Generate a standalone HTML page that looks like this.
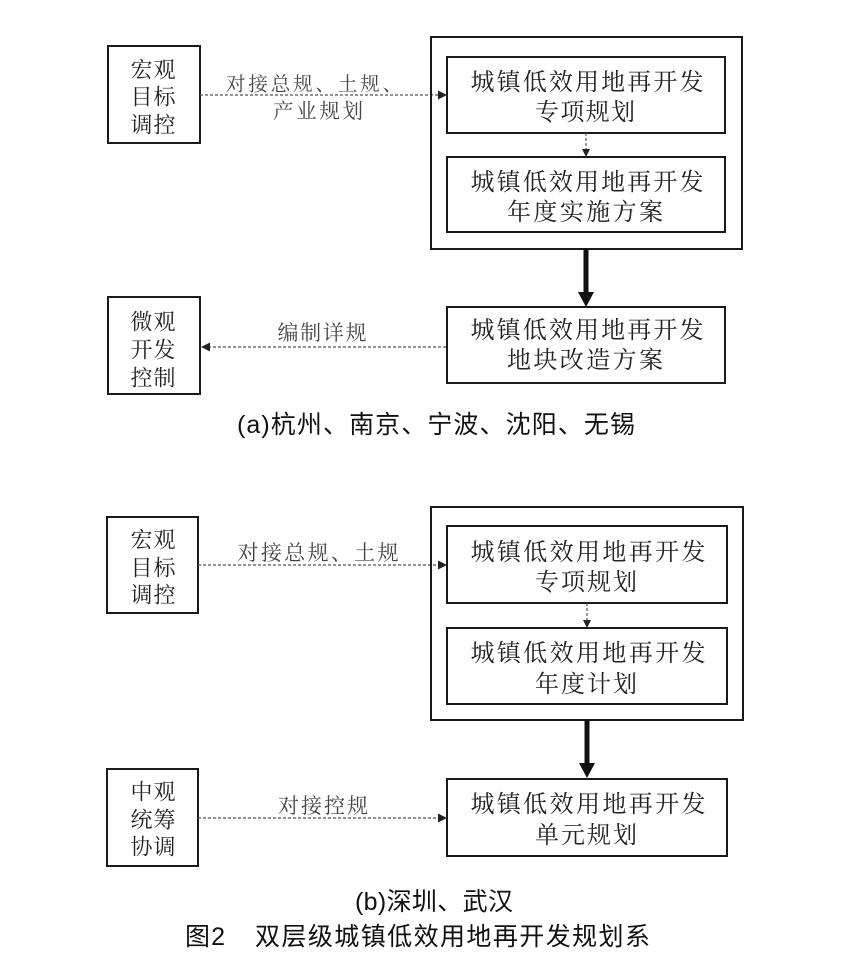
<!DOCTYPE html>
<html>
<head>
<meta charset="utf-8">
<style>
  html,body{margin:0;padding:0;background:#fff;}
  body{width:848px;height:964px;overflow:hidden;}
  svg{display:block;}
  .bx{fill:none;stroke:#1a1a1a;stroke-width:2;}
  .t{font-family:"Liberation Serif","Noto Serif CJK SC",serif;fill:#222;}
  .lb{font-family:"Liberation Serif","Noto Serif CJK SC",serif;fill:#444;}
  .cap{font-family:"Liberation Sans","Noto Sans CJK SC",sans-serif;fill:#111;}
  .dash{stroke:#555;stroke-width:1.2;stroke-dasharray:3 2;fill:none;}
</style>
</head>
<body>
<svg width="848" height="964" viewBox="0 0 848 964" xmlns="http://www.w3.org/2000/svg">
  <rect width="848" height="964" fill="#fff"/>

  <!-- ============ TOP (a) ============ -->
  <rect class="bx" x="108" y="46" width="92" height="97"/>
  <g class="t" font-size="22" text-anchor="middle" dominant-baseline="central">
    <text x="153" y="70" textLength="45" lengthAdjust="spacing">宏观</text>
    <text x="153" y="97" textLength="45" lengthAdjust="spacing">目标</text>
    <text x="153" y="125" textLength="45" lengthAdjust="spacing">调控</text>
  </g>
  <line class="dash" x1="200" y1="95" x2="439" y2="95"/>
  <polygon points="438,90.5 447,95 438,99.5" fill="#222"/>
  <g class="lb" text-anchor="middle" dominant-baseline="central">
    <text x="314" y="85" font-size="19.5" textLength="176" lengthAdjust="spacing">对接总规、土规、</text>
    <text x="318" y="112" font-size="20.5" textLength="90" lengthAdjust="spacing">产业规划</text>
  </g>

  <rect class="bx" x="431" y="37" width="311" height="212"/>
  <rect class="bx" x="447" y="57" width="278" height="76"/>
  <rect class="bx" x="447" y="157" width="278" height="75"/>
  <g class="t" font-size="24" text-anchor="middle" dominant-baseline="central">
    <text x="587" y="83" textLength="233" lengthAdjust="spacing">城镇低效用地再开发</text>
    <text x="585" y="113" textLength="100" lengthAdjust="spacing">专项规划</text>
    <text x="587" y="183" textLength="233" lengthAdjust="spacing">城镇低效用地再开发</text>
    <text x="585" y="213" textLength="156" lengthAdjust="spacing">年度实施方案</text>
  </g>
  <line class="dash" x1="586" y1="133" x2="586" y2="150"/>
  <polygon points="582,149 590,149 586,157" fill="#222"/>

  <line x1="586" y1="249" x2="586" y2="294" stroke="#111" stroke-width="5"/>
  <polygon points="578,292 594,292 586,307" fill="#111"/>

  <rect class="bx" x="447" y="307" width="278" height="76"/>
  <g class="t" font-size="24" text-anchor="middle" dominant-baseline="central">
    <text x="587" y="331" textLength="233" lengthAdjust="spacing">城镇低效用地再开发</text>
    <text x="585" y="361" textLength="156" lengthAdjust="spacing">地块改造方案</text>
  </g>

  <rect class="bx" x="108" y="297" width="92" height="97"/>
  <g class="t" font-size="22" text-anchor="middle" dominant-baseline="central">
    <text x="153" y="322" textLength="45" lengthAdjust="spacing">微观</text>
    <text x="153" y="350" textLength="45" lengthAdjust="spacing">开发</text>
    <text x="153" y="378" textLength="45" lengthAdjust="spacing">控制</text>
  </g>
  <line class="dash" x1="208" y1="347" x2="447" y2="347"/>
  <polygon points="201,347 210,342.5 210,351.5" fill="#222"/>
  <text class="lb" font-size="21" text-anchor="middle" dominant-baseline="central" x="322" y="333" textLength="89" lengthAdjust="spacing">编制详规</text>

  <text class="cap" font-size="25" text-anchor="middle" dominant-baseline="central" x="436" y="425" textLength="398" lengthAdjust="spacing">(a)杭州、南京、宁波、沈阳、无锡</text>

  <!-- ============ BOTTOM (b) ============ -->
  <rect class="bx" x="107" y="517" width="91" height="96"/>
  <g class="t" font-size="22" text-anchor="middle" dominant-baseline="central">
    <text x="153" y="540" textLength="45" lengthAdjust="spacing">宏观</text>
    <text x="153" y="568" textLength="45" lengthAdjust="spacing">目标</text>
    <text x="153" y="595" textLength="45" lengthAdjust="spacing">调控</text>
  </g>
  <line class="dash" x1="198" y1="565" x2="439" y2="565"/>
  <polygon points="438,560.5 447,565 438,569.5" fill="#222"/>
  <text class="lb" font-size="21" text-anchor="middle" dominant-baseline="central" x="318" y="553" textLength="161" lengthAdjust="spacing">对接总规、土规</text>

  <rect class="bx" x="431" y="507" width="312" height="213"/>
  <rect class="bx" x="447" y="526" width="280" height="77"/>
  <rect class="bx" x="447" y="628" width="280" height="76"/>
  <g class="t" font-size="24" text-anchor="middle" dominant-baseline="central">
    <text x="588" y="553" textLength="235" lengthAdjust="spacing">城镇低效用地再开发</text>
    <text x="586" y="583" textLength="102" lengthAdjust="spacing">专项规划</text>
    <text x="588" y="654" textLength="235" lengthAdjust="spacing">城镇低效用地再开发</text>
    <text x="586" y="685" textLength="102" lengthAdjust="spacing">年度计划</text>
  </g>
  <line class="dash" x1="587" y1="603" x2="587" y2="621"/>
  <polygon points="583,620 591,620 587,628" fill="#222"/>

  <line x1="587" y1="720" x2="587" y2="765" stroke="#111" stroke-width="5"/>
  <polygon points="579,763 595,763 587,778" fill="#111"/>

  <rect class="bx" x="447" y="779" width="280" height="77"/>
  <g class="t" font-size="24" text-anchor="middle" dominant-baseline="central">
    <text x="588" y="805" textLength="235" lengthAdjust="spacing">城镇低效用地再开发</text>
    <text x="586" y="836" textLength="102" lengthAdjust="spacing">单元规划</text>
  </g>

  <rect class="bx" x="107" y="769" width="91" height="97"/>
  <g class="t" font-size="22" text-anchor="middle" dominant-baseline="central">
    <text x="153" y="792" textLength="45" lengthAdjust="spacing">中观</text>
    <text x="153" y="820" textLength="45" lengthAdjust="spacing">统筹</text>
    <text x="153" y="847" textLength="45" lengthAdjust="spacing">协调</text>
  </g>
  <line class="dash" x1="198" y1="818" x2="439" y2="818"/>
  <polygon points="438,813.5 447,818 438,822.5" fill="#222"/>
  <text class="lb" font-size="21" text-anchor="middle" dominant-baseline="central" x="323" y="806" textLength="90" lengthAdjust="spacing">对接控规</text>

  <text class="cap" font-size="25" text-anchor="middle" dominant-baseline="central" x="434" y="902" textLength="158" lengthAdjust="spacing">(b)深圳、武汉</text>

  <text class="cap" font-size="25" dominant-baseline="central" x="185" y="937" textLength="40" lengthAdjust="spacing">图 2</text>
  <text class="cap" font-size="25" dominant-baseline="central" x="255" y="937" textLength="395" lengthAdjust="spacing">双层级城镇低效用地再开发规划系</text>
</svg>
</body>
</html>
